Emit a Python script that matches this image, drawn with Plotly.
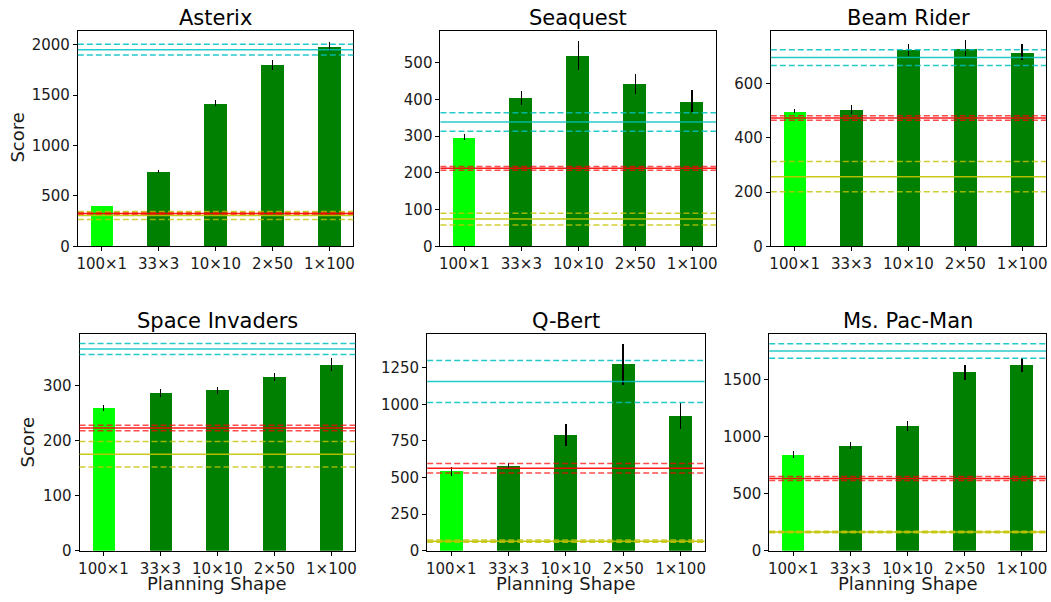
import plotly.graph_objects as go

# ---------------- data ----------------
shapes_labels = ["100×1", "33×3", "10×10", "2×50", "1×100"]
games = ["Asterix", "Seaquest", "Beam Rider", "Space Invaders", "Q-Bert", "Ms. Pac-Man"]

asterix_scores = [401, 744, 1417, 1798, 1983]
asterix_errs = [3, 16, 29, 52, 44]
seaquest_scores = [297, 404, 519, 442, 394]
seaquest_errs = [8, 19, 39, 28, 30]
beamrider_scores = [499, 506, 725, 732, 717]
beamrider_errs = [8, 16, 22, 29, 29]
spaceinv_scores = [259, 286, 291, 315, 338]
spaceinv_errs = [6, 7, 7, 7, 12]
qbert_scores = [543, 579, 788, 1273, 922]
qbert_errs = [31, 19, 76, 140, 89]
mspacman_scores = [840, 921, 1094, 1563, 1629]
mspacman_errs = [32, 30, 47, 69, 63]

# baselines: (mean, half-width) for cyan, red, yellow
cyan_lines = [(1950, 53), (338, 25), (697, 29), (366, 10), (1156, 144), (1750, 63)]
red_lines = [(326, 8), (212, 5), (474, 8), (222.5, 5), (563, 32), (633, 18)]
yellow_lines = [(306, 40), (74, 16), (257, 56), (175, 23), (65, 7), (164, 7)]

y_max = [2140, 587, 797, 393.5, 1481, 1900]
y_ticks = [[0, 500, 1000, 1500, 2000], [0, 100, 200, 300, 400, 500], [0, 200, 400, 600],
           [0, 100, 200, 300], [0, 250, 500, 750, 1000, 1250], [0, 500, 1000, 1500]]

all_scores = [asterix_scores, seaquest_scores, beamrider_scores, spaceinv_scores, qbert_scores, mspacman_scores]
all_errs = [asterix_errs, seaquest_errs, beamrider_errs, spaceinv_errs, qbert_errs, mspacman_errs]

W, H = 1051, 602


def px_x(p):
    return p / W


def px_y(p):
    return 1 - p / H


x_px = [(77, 353), (440.3, 716.5), (771.3, 1047), (78.7, 355), (427, 705), (769.7, 1047)]
y_px = [(31, 250), (31, 250), (31, 250), (339, 559), (339, 559), (339, 559)]
title_y = [18, 18, 18, 325.5, 325.5, 325.5]

bar_colors = ["#00ff00", "#008000", "#008000", "#008000", "#008000"]
FONT = "DejaVu Sans"
TXT = "#1a1a1a"

fig = go.Figure()
shapes = []
annotations = []
layout_axes = {}

line_specs = [
    (cyan_lines, "rgba(0,191,191,0.85)", "rgba(0,191,191,0.85)"),
    (red_lines, "rgba(255,0,0,0.9)", "rgba(255,0,0,0.7)"),
    (yellow_lines, "rgba(195,195,0,0.9)", "rgba(195,195,0,0.8)"),
]

for i in range(6):
    xa = "x" if i == 0 else f"x{i+1}"
    ya = "y" if i == 0 else f"y{i+1}"
    xkey = "xaxis" if i == 0 else f"xaxis{i+1}"
    ykey = "yaxis" if i == 0 else f"yaxis{i+1}"

    fig.add_trace(go.Bar(
        x=list(range(5)), y=all_scores[i], width=0.4,
        marker=dict(color=bar_colors, line=dict(width=0)),
        error_y=dict(type="data", array=all_errs[i], color="black", thickness=1.5, width=0),
        xaxis=xa, yaxis=ya, showlegend=False,
    ))

    for lines, solid_c, dash_c in line_specs:
        m, d = lines[i]
        shapes.append(dict(type="line", xref=f"{xa} domain", yref=ya, x0=0, x1=1, y0=m, y1=m,
                           line=dict(color=solid_c, width=1.5)))
        for yy in (m - d, m + d):
            shapes.append(dict(type="line", xref=f"{xa} domain", yref=ya, x0=0, x1=1, y0=yy, y1=yy,
                               line=dict(color=dash_c, width=1.5, dash="6px,3px")))

    x0, x1 = x_px[i]
    yt, yb = y_px[i]
    layout_axes[xkey] = dict(
        domain=[px_x(x0), px_x(x1)], anchor=ya, range=[-0.42, 4.42],
        tickmode="array", tickvals=list(range(5)), ticktext=shapes_labels,
        ticks="outside", ticklen=4, tickwidth=1, tickcolor="black",
        showline=True, linecolor="black", linewidth=1, mirror=True,
        showgrid=False, zeroline=False,
        tickfont=dict(family=FONT, size=15, color=TXT),
    )
    layout_axes[ykey] = dict(
        domain=[px_y(yb), px_y(yt)], anchor=xa, range=[0, y_max[i]],
        tickmode="array", tickvals=y_ticks[i],
        ticks="outside", ticklen=4, tickwidth=1, tickcolor="black",
        showline=True, linecolor="black", linewidth=1, mirror=True,
        showgrid=False, zeroline=False,
        tickfont=dict(family=FONT, size=15, color=TXT),
    )

    annotations.append(dict(
        text=games[i], xref="paper", yref="paper",
        x=px_x((x0 + x1) / 2), y=px_y(title_y[i]), xanchor="center", yanchor="middle",
        showarrow=False, font=dict(family=FONT, size=21, color="black"),
    ))

# axis labels
for xc, yc in ((16.7, 140), (27.5, 448.7)):
    annotations.append(dict(
        text="Score", xref="paper", yref="paper", x=px_x(xc), y=px_y(yc),
        xanchor="center", yanchor="middle", textangle=-90, showarrow=False,
        font=dict(family=FONT, size=18, color=TXT),
    ))
for i in (3, 4, 5):
    x0, x1 = x_px[i]
    annotations.append(dict(
        text="Planning Shape", xref="paper", yref="paper", x=px_x((x0 + x1) / 2), y=px_y(592),
        xanchor="center", yanchor="middle", showarrow=False,
        font=dict(family=FONT, size=18, color=TXT),
    ))

fig.update_layout(
    width=W, height=H, autosize=False, margin=dict(l=0, r=0, t=0, b=0),
    paper_bgcolor="white", plot_bgcolor="white",
    shapes=shapes, annotations=annotations, bargap=0,
    font=dict(family=FONT),
    **layout_axes,
)

fig.write_html("out.html", config={"displayModeBar": False, "responsive": False},
               post_script="document.body.style.margin='0px';document.body.style.overflow='hidden';")
